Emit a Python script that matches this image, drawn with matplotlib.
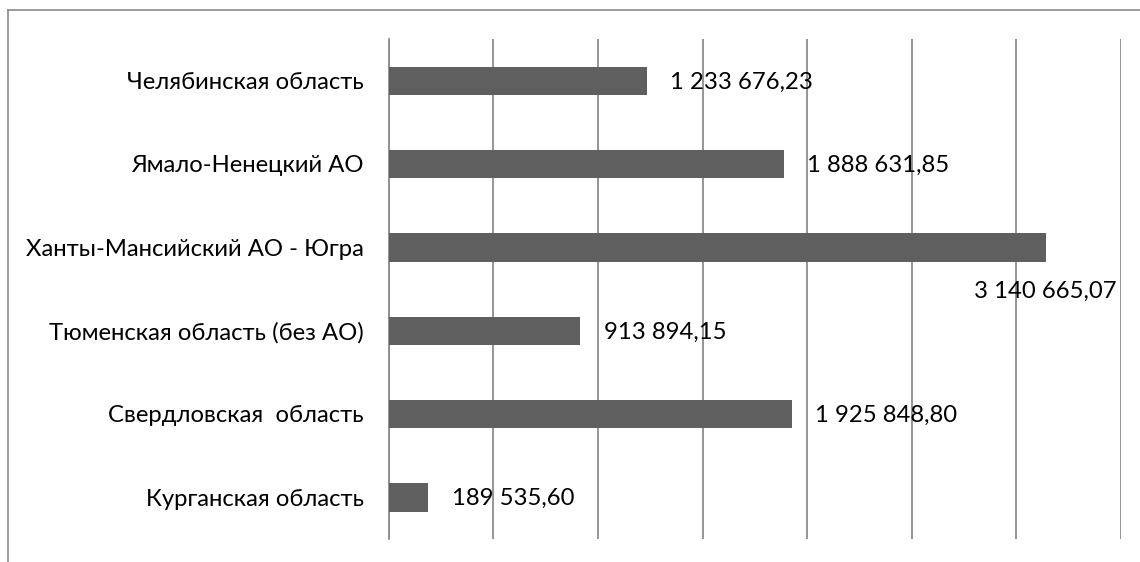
#!/usr/bin/env python3
"""Horizontal bar chart: regional values (Ural federal district)."""
import matplotlib
matplotlib.use("Agg")
import matplotlib.pyplot as plt
from matplotlib.lines import Line2D

regions = [
    "Челябинская область",
    "Ямало-Ненецкий АО",
    "Ханты-Мансийский АО - Югра",
    "Тюменская область (без АО)",
    "Свердловская  область",
    "Курганская область",
]
values = [1233676.23, 1888631.85, 3140665.07, 913894.15, 1925848.80, 189535.60]
x_ticks = [0, 500000, 1000000, 1500000, 2000000, 2500000, 3000000, 3500000]

BAR = "#5f5f5f"
GRID = "#8c8c8c"
FS = 17.2

plt.rcParams["font.family"] = ["Lato", "DejaVu Sans"]


def fmt(v):
    s = "{:,.2f}".format(v)
    return s.replace(",", " ").replace(".", ",")


W, H = 1140, 562
fig = plt.figure(figsize=(W / 100, H / 100), dpi=100)
ax = fig.add_axes([388.7 / W, 1 - 539 / H, (1121 - 388.7) / W, 500 / H])

ypos = list(range(len(regions)))[::-1]
ax.barh(ypos, values, height=0.34, color=BAR, zorder=3)
ax.set_xlim(0, 3500000)
ax.set_ylim(-0.5, len(regions) - 0.5)
ax.set_xticks(x_ticks)
ax.set_xticklabels([])
ax.tick_params(axis="both", length=0)
ax.grid(axis="x", color=GRID, linewidth=1.3, zorder=0)
for s in ["top", "right", "bottom"]:
    ax.spines[s].set_visible(False)
ax.spines["left"].set_color(GRID)
ax.spines["left"].set_linewidth(1.3)
ax.set_yticks(ypos)
ax.set_yticklabels(regions, fontsize=FS, color="black")
ax.tick_params(axis="y", pad=18)

for y, v in zip(ypos, values):
    if v == max(values):
        ax.annotate(fmt(v), xy=(v, y), xytext=(51, -32), textcoords="offset points",
                    ha="right", va="center", fontsize=FS, color="black", zorder=4)
    else:
        ax.annotate(fmt(v), xy=(v, y), xytext=(17, -1), textcoords="offset points",
                    ha="left", va="center", fontsize=FS, color="black", zorder=4)

# outer frame (left and top edges only are in view)
fig.add_artist(Line2D([8 / W, 8 / W], [0, 1 - 10 / H], color="#8a8a8a", lw=1.2,
                      transform=fig.transFigure))
fig.add_artist(Line2D([8 / W, 1], [1 - 10 / H, 1 - 10 / H], color="#8a8a8a", lw=1.2,
                      transform=fig.transFigure))

fig.savefig("out.png", dpi=100)
